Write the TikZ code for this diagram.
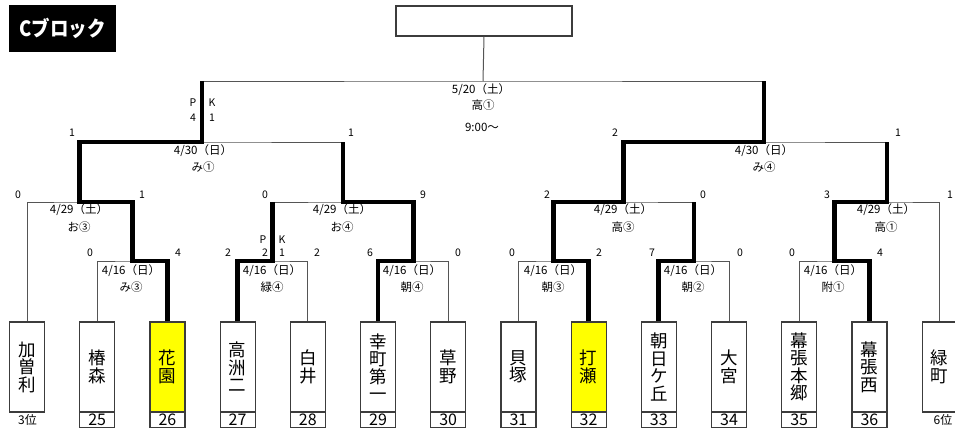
\documentclass[tikz,border=0pt]{standalone}
\usepackage{fontspec}
\setmainfont{Noto Sans CJK JP}
\usepackage{tikz}
\usetikzlibrary{positioning,calc}
\definecolor{grisTrait}{RGB}{85,85,85}
\definecolor{grisCadre}{RGB}{60,60,60}
\definecolor{jauneVif}{RGB}{255,255,0}

\tikzset{
  equipe/.style={draw=grisCadre, line width=1.2pt, fill=white, minimum width=35, minimum height=90,
                 inner sep=0pt, align=center, font=\fontsize{17.5}{17.5}\selectfont},
  gagnant/.style={equipe, fill=jauneVif},
  numero/.style={draw=grisCadre, line width=1.2pt, minimum width=35, minimum height=15.5,
                 inner sep=0pt, font=\fontsize{16}{16}\selectfont},
  trait/.style={grisTrait, line width=1pt},
  victoire/.style={black, line width=4.8pt},
  score/.style={inner sep=0pt, font=\fontsize{10.5}{10.5}\selectfont},
  info/.style={inner sep=0pt, font=\fontsize{11.5}{11.5}\selectfont},
  rang/.style={inner sep=0pt, font=\fontsize{12}{12}\selectfont}
}

\begin{document}
\begin{tikzpicture}[x=1pt, y=-1pt]

\useasboundingbox (0,0) rectangle (955,431);

% titre et case du vainqueur
\node[fill=black, text=white, minimum width=107, minimum height=47, inner sep=0pt,
      font=\bfseries\fontsize{21}{21}\selectfont] (titre) at (62.5,28.5) {\scalebox{0.88}[1]{Cブロック}};
\node[draw=grisCadre, line width=1.2pt, minimum width=176, minimum height=30, inner sep=0pt] (finale) at (484,21) {};

% equipes
\node[equipe]  (t1)  at (27,367)    {加\\曽\\利};
\node[equipe]  (t2)  at (97.2,367)  {椿\\森};
\node[gagnant] (t3)  at (167.4,367) {花\\園};
\node[equipe]  (t4)  at (237.6,367) {高\\洲\\二};
\node[equipe]  (t5)  at (307.8,367) {白\\井};
\node[equipe]  (t6)  at (378,367)   {幸\\町\\第\\一};
\node[equipe]  (t7)  at (448.2,367) {草\\野};
\node[equipe]  (t8)  at (518.4,367) {貝\\塚};
\node[gagnant] (t9)  at (588.6,367) {打\\瀬};
\node[equipe]  (t10) at (658.8,367) {朝\\日\\ケ\\丘};
\node[equipe]  (t11) at (729,367)   {大\\宮};
\node[equipe]  (t12) at (799.2,367) {幕\\張\\本\\郷};
\node[equipe]  (t13) at (869.4,367) {幕\\張\\西};
\node[equipe]  (t14) at (939.6,367) {緑\\町};

\node[numero] (n2)  at (97.2,419.5)  {25};
\node[numero] (n3)  at (167.4,419.5) {26};
\node[numero] (n4)  at (237.6,419.5) {27};
\node[numero] (n5)  at (307.8,419.5) {28};
\node[numero] (n6)  at (378,419.5)   {29};
\node[numero] (n7)  at (448.2,419.5) {30};
\node[numero] (n8)  at (518.4,419.5) {31};
\node[numero] (n9)  at (588.6,419.5) {32};
\node[numero] (n10) at (658.8,419.5) {33};
\node[numero] (n11) at (729,419.5)   {34};
\node[numero] (n12) at (799.2,419.5) {35};
\node[numero] (n13) at (869.4,419.5) {36};
\node[rang] (r1)  at (27.5,420) {3位};
\node[rang] (r14) at (943,420)  {6位};

% points de rencontre
\coordinate (mA) at (132.3,261);
\coordinate (mB) at (79.7,202);
\coordinate (mC) at (272.7,261);
\coordinate (mD) at (413.1,261);
\coordinate (mE) at (342.9,202);
\coordinate (mF) at (202,142);
\coordinate (mG) at (553.5,261);
\coordinate (mH) at (693.9,261);
\coordinate (mI) at (623.7,202);
\coordinate (mJ) at (834.3,261);
\coordinate (mK) at (887,202);
\coordinate (mL) at (764,142);
\coordinate (fin) at (483,81);

% tableau
\draw[trait] (t2.north) |- (mA) -| (t3.north);
\draw[trait] (t1.north) |- (mB) -| (mA);
\draw[trait] (t4.north) |- (mC) -| (t5.north);
\draw[trait] (t6.north) |- (mD) -| (t7.north);
\draw[trait] (mC) |- (mE) -| (mD);
\draw[trait] (mB) |- (mF) -| (mE);
\draw[trait] (t8.north) |- (mG) -| (t9.north);
\draw[trait] (t10.north) |- (mH) -| (t11.north);
\draw[trait] (mG) |- (mI) -| (mH);
\draw[trait] (t12.north) |- (mJ) -| (t13.north);
\draw[trait] (mJ) |- (mK) -| (t14.north);
\draw[trait] (mI) |- (mL) -| (mK);
\draw[trait] (mF) |- (fin) -| (mL);
\draw[trait] (fin) -- (finale.south);

% vainqueurs
\draw[victoire] (t3.north) |- (mA) |- (mB) |- (mF) -- (mF |- fin);
\draw[victoire] (t4.north) |- (mC) -- (mC |- mE);
\draw[victoire] (t6.north) |- (mD) |- (mE) -- (mE |- mF);
\draw[victoire] (t9.north) |- (mG) |- (mI) |- (mL) -- (mL |- fin);
\draw[victoire] (t10.north) |- (mH) -- (mH |- mI);
\draw[victoire] (t13.north) |- (mJ) |- (mK) -- (mK |- mL);

% finale
\node[info] (dFin) at (481,90)  {5/20（土）};
\node[info] (vFin) at (483,105) {高①};
\node[info] (hFin) at (482,127) {9:00～};

% 4/30
\node[score] (sF1) at (72,133)  {1};
\node[score] (sF2) at (351,133) {1};
\node[score] (pF1) at (193,103) {P};
\node[score] (pF2) at (212,103) {K};
\node[score] (pF3) at (193,118) {4};
\node[score] (pF4) at (212,118) {1};
\node[info] (dF) at (203,151) {4/30（日）};
\node[info] (vF) at (203,167) {み①};

\node[score] (sL1) at (615,133) {2};
\node[score] (sL2) at (898,133) {1};
\node[info] (dL) at (764,151) {4/30（日）};
\node[info] (vL) at (764,167) {み④};

% 4/29
\node[score] (sB1) at (18,195)  {0};
\node[score] (sB2) at (142,195) {1};
\node[info] (dB) at (79,210) {4/29（土）};
\node[info] (vB) at (79,227) {お③};

\node[score] (sE1) at (265,195) {0};
\node[score] (sE2) at (423,195) {9};
\node[info] (dE) at (342,210) {4/29（土）};
\node[info] (vE) at (342,227) {お④};

\node[score] (sI1) at (547,195) {2};
\node[score] (sI2) at (703,195) {0};
\node[info] (dI) at (623,210) {4/29（土）};
\node[info] (vI) at (623,227) {高③};

\node[score] (sK1) at (827,195) {3};
\node[score] (sK2) at (950,195) {1};
\node[info] (dK) at (886,210) {4/29（土）};
\node[info] (vK) at (886,227) {高①};

% 4/16
\node[score] (sA1) at (90,253)  {0};
\node[score] (sA2) at (178,253) {4};
\node[info] (dA) at (131,271) {4/16（日）};
\node[info] (vA) at (131,287) {み③};

\node[score] (sC1) at (228,253) {2};
\node[score] (sC2) at (265,253) {2};
\node[score] (sC3) at (282,253) {1};
\node[score] (sC4) at (317,253) {2};
\node[score] (pC1) at (263,240) {P};
\node[score] (pC2) at (282,240) {K};
\node[info] (dC) at (272,271) {4/16（日）};
\node[info] (vC) at (272,287) {緑④};

\node[score] (sD1) at (370,253) {6};
\node[score] (sD2) at (458,253) {0};
\node[info] (dD) at (412,271) {4/16（日）};
\node[info] (vD) at (412,287) {朝④};

\node[score] (sG1) at (512,253) {0};
\node[score] (sG2) at (599,253) {2};
\node[info] (dG) at (553,271) {4/16（日）};
\node[info] (vG) at (553,287) {朝③};

\node[score] (sH1) at (652,253) {7};
\node[score] (sH2) at (740,253) {0};
\node[info] (dH) at (693,271) {4/16（日）};
\node[info] (vH) at (693,287) {朝②};

\node[score] (sJ1) at (792,253) {0};
\node[score] (sJ2) at (880,253) {4};
\node[info] (dJ) at (833,271) {4/16（日）};
\node[info] (vJ) at (833,287) {附①};

\end{tikzpicture}
\end{document}
